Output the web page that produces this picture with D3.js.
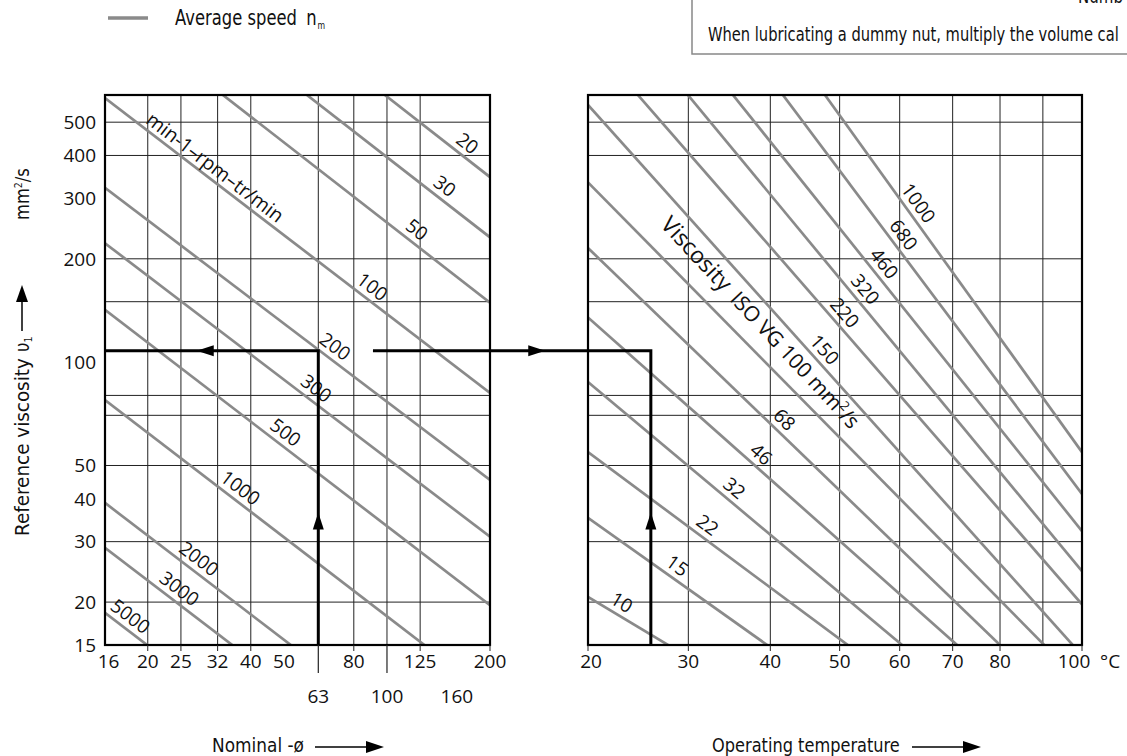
<!DOCTYPE html>
<html><head><meta charset="utf-8">
<script src="https://cdn.jsdelivr.net/npm/d3@7/dist/d3.min.js"></script>
<style>
html,body{margin:0;padding:0;background:#fff;overflow:hidden}
svg{display:block}
</style></head>
<body><svg id="c" width="1127" height="756"></svg>
<script>
// ---------------- data ----------------
const diamTickLabels = [16, 20, 25, 32, 40, 50, 80, 125, 200];
const diamTickLabels2 = [63, 100, 160];
const diamGrid = [20, 25, 32, 40, 63, 80, 100, 125];
const diamShortTicks = [20, 25, 32, 40, 80, 125, 200];
const diamLongTicks = [63, 100];

const viscTickLabels = [15, 20, 30, 40, 50, 100, 200, 300, 400, 500];
const viscGrid = [20, 30, 50, 70, 80, 150, 200, 400, 500];

const tempTickLabels = [20, 30, 40, 50, 60, 70, 80, 100];
const tempGrid = [30, 40, 50, 60, 70, 80, 90];

// speed lines (left): reference viscosity at d = 15 and d = 200
const speeds = [20, 30, 50, 100, 200, 300, 500, 1000, 2000, 3000, 5000];
const speedNuAtD15 = [2600, 1720, 1110, 588, 322, 222, 142, 77.6, 38.9, 28.8, 18.6];
const speedNuAtD200 = [346, 231, 149, 81.3, 45.4, 31.0, 19.6, 10.7, 5.4, 4.0, 2.6];
const speedLabelD = [163, 140, 116, 86, 67, 59, 48, 35.4, 26.8, 23.5, 16.9];

// ISO VG lines (right): viscosity at 20 °C and 100 °C
const grades = [10, 15, 22, 32, 46, 68, 100, 150, 220, 320, 460, 680, 1000];
const gradeNuAt20 = [20.7, 35.2, 54.7, 87.5, 135, 215, 334, 561, 881, 1349, 2022, 3434, 5460];
const gradeNuAt100 = [2.84, 3.35, 4.67, 5.46, 7.13, 8.83, 11.6, 14.0, 19.7, 24.6, 32.2, 41.3, 54.7];
const gradeLabelT = [22.5, 28, 31.3, 34.4, 37.7, 40.7, null, 46.3, 49.3, 52.5, 55.6, 58.9, 61.5];

// worked example
const exampleDiam = 63;
const exampleNu = 108;
const exampleTemp = 26;
const exampleStartDiam = 91;

// ---------------- layout ----------------
const svg = d3.select('#c');
const T = 95, B = 645;
const y = d3.scaleLog().domain([15, 600]).range([B, T]);
const xL = d3.scaleLog().domain([15, 200]).range([105, 490]);
const tempOffset = 20;
const xRlog = d3.scaleLog().domain([20 + tempOffset, 100 + tempOffset]).range([588, 1082]);
const xR = t => xRlog(t + tempOffset);

const NUMF = "'Open Sans','Noto Sans',sans-serif";
const CONDF = "'DejaVu Sans',sans-serif";
const GREY = '#8a8a8a';

// condensed text: natural text squeezed horizontally to a target width
function condText(x, yy, size, width, rot, build) {
  const t = svg.append('text').attr('font-family', CONDF).attr('font-size', size).attr('fill', '#111');
  build(t);
  const len = t.node().getComputedTextLength();
  const s = width ? width / len : 0.86;
  t.attr('transform', `translate(${x},${yy}) rotate(${rot}) scale(${s},1)`);
  return t;
}

const defs = svg.append('defs');
defs.append('clipPath').attr('id', 'clipL').append('rect')
  .attr('x', xL(15)).attr('y', T).attr('width', xL(200) - xL(15)).attr('height', B - T);
defs.append('clipPath').attr('id', 'clipR').append('rect')
  .attr('x', xR(20)).attr('y', T).attr('width', xR(100) - xR(20)).attr('height', B - T);

function panel(xs, x0, x1, vGrid) {
  const g = svg.append('g');
  g.selectAll('line.h').data(viscGrid).join('line')
    .attr('x1', xs(x0)).attr('x2', xs(x1)).attr('y1', d => y(d)).attr('y2', d => y(d))
    .attr('stroke', '#222').attr('stroke-width', 1);
  g.selectAll('line.v').data(vGrid).join('line')
    .attr('x1', d => xs(d)).attr('x2', d => xs(d)).attr('y1', T).attr('y2', B)
    .attr('stroke', '#222').attr('stroke-width', 1);
  return g;
}
panel(xL, 15, 200, diamGrid);
panel(xR, 20, 100, tempGrid);

function lineGeom(xs, xa, xb, va, vb, at) {
  const x1 = xs(xa), y1 = y(va), x2 = xs(xb), y2 = y(vb);
  const ang = Math.atan2(y2 - y1, x2 - x1) * 180 / Math.PI;
  let px = null, py = null;
  if (at != null) { px = xs(at); py = y1 + (px - x1) * (y2 - y1) / (x2 - x1); }
  return { x1, y1, x2, y2, ang, px, py };
}

const diagL = svg.append('g').attr('clip-path', 'url(#clipL)');
const diagR = svg.append('g').attr('clip-path', 'url(#clipR)');
const labs = svg.append('g').attr('font-family', NUMF).attr('fill', '#111');

speeds.forEach((s, i) => {
  const g = lineGeom(xL, 15, 200, speedNuAtD15[i], speedNuAtD200[i], speedLabelD[i]);
  diagL.append('line').attr('x1', g.x1).attr('y1', g.y1).attr('x2', g.x2).attr('y2', g.y2)
    .attr('stroke', GREY).attr('stroke-width', 2.7);
  labs.append('text').attr('transform', `translate(${g.px},${g.py}) rotate(${g.ang})`)
    .attr('y', -6).attr('text-anchor', 'middle').attr('font-size', 19).text(s);
});

{
  const g = lineGeom(xL, 15, 200, speedNuAtD15[3], speedNuAtD200[3], 19.2);
  labs.append('text').attr('transform', `translate(${g.px},${g.py}) rotate(${g.ang})`)
    .attr('y', -5).attr('text-anchor', 'start').attr('font-size', 19.5).text('min-1–rpm–tr/min');
}

grades.forEach((s, i) => {
  const g = lineGeom(xR, 20, 100, gradeNuAt20[i], gradeNuAt100[i], gradeLabelT[i]);
  diagR.append('line').attr('x1', g.x1).attr('y1', g.y1).attr('x2', g.x2).attr('y2', g.y2)
    .attr('stroke', GREY).attr('stroke-width', 2.7);
  if (gradeLabelT[i] != null) {
    labs.append('text').attr('transform', `translate(${g.px},${g.py}) rotate(${g.ang})`)
      .attr('y', -6).attr('text-anchor', 'middle').attr('font-size', 19).text(s);
  }
});

{
  const g = lineGeom(xR, 20, 100, gradeNuAt20[6], gradeNuAt100[6], null);
  const t = labs.append('text')
    .attr('transform', `translate(${xR(26.9)},${y(250)}) rotate(${g.ang + 1.6})`);
  t.append('tspan').attr('font-size', 23).text('Viscosity');
  t.append('tspan').attr('font-size', 21).attr('dx', 10).text('ISO VG 100 mm');
  t.append('tspan').attr('font-size', 13).attr('dy', -8).text('2');
  t.append('tspan').attr('font-size', 21).attr('dy', 8).text('/s');
}

// frames
[[xL(15), xL(200)], [xR(20), xR(100)]].forEach(([a, b]) => {
  svg.append('rect').attr('x', a).attr('y', T).attr('width', b - a).attr('height', B - T)
    .attr('fill', 'none').attr('stroke', '#000').attr('stroke-width', 2.2);
});

// ticks below axis
svg.selectAll('line.dt').data(diamShortTicks).join('line')
  .attr('x1', d => xL(d)).attr('x2', d => xL(d)).attr('y1', B).attr('y2', B + 6)
  .attr('stroke', '#222').attr('stroke-width', 1);
svg.selectAll('line.dl').data(diamLongTicks).join('line')
  .attr('x1', d => xL(d)).attr('x2', d => xL(d)).attr('y1', B).attr('y2', B + 28)
  .attr('stroke', '#222').attr('stroke-width', 1.2);
svg.selectAll('line.tt').data(tempTickLabels).join('line')
  .attr('x1', d => xR(d)).attr('x2', d => xR(d)).attr('y1', B).attr('y2', B + 6)
  .attr('stroke', '#222').attr('stroke-width', 1);

// tick labels
const tl = svg.append('g').attr('font-family', NUMF).attr('font-size', 19).attr('fill', '#111');
tl.selectAll('text.yl').data(viscTickLabels).join('text')
  .attr('x', 96).attr('y', d => y(d)).attr('dy', '0.36em').attr('text-anchor', 'end').text(d => d);
tl.selectAll('text.dl').data(diamTickLabels).join('text')
  .attr('x', (d, i) => xL(d) - (i === 0 ? 6 : 0)).attr('y', 668).attr('text-anchor', 'middle').text(d => d);
tl.selectAll('text.dl2').data(diamTickLabels2).join('text')
  .attr('x', d => xL(d)).attr('y', 703).attr('text-anchor', 'middle').text(d => d);
tl.selectAll('text.tl').data(tempTickLabels).join('text')
  .attr('x', (d, i) => xR(d) + (i === 0 ? 3 : 0) - (i === tempTickLabels.length - 1 ? 8 : 0))
  .attr('y', 668).attr('text-anchor', 'middle').text(d => d);
tl.append('text').attr('x', 1100).attr('y', 668).text('°C');

// worked example arrows
const ex = svg.append('g').attr('stroke', '#000').attr('stroke-width', 3).attr('fill', 'none');
const exX = xL(exampleDiam), exY = y(exampleNu), exXR = xR(exampleTemp), exX0 = xL(exampleStartDiam);
ex.append('path').attr('d', `M${exX},${B}V${exY}H${xL(15)}`);
ex.append('path').attr('d', `M${exX0},${exY}H${exXR}V${B}`);
function head(x, yy, dir) {
  const s = 11, l = 17;
  let p;
  if (dir === 'up') p = [[x, yy], [x - s / 2, yy + l], [x + s / 2, yy + l]];
  if (dir === 'left') p = [[x, yy], [x + l, yy - s / 2], [x + l, yy + s / 2]];
  if (dir === 'right') p = [[x, yy], [x - l, yy - s / 2], [x - l, yy + s / 2]];
  svg.append('path').attr('d', 'M' + p.join('L') + 'Z').attr('fill', '#000');
}
head(exX, B - 0.45 * (B - exY), 'up');
head(exXR, B - 0.45 * (B - exY), 'up');
head(exX - 0.57 * (exX - xL(15)), exY, 'left');
head(exX0 + 0.62 * (exXR - exX0), exY, 'right');

// legend
svg.append('line').attr('x1', 108).attr('x2', 148).attr('y1', 18).attr('y2', 18)
  .attr('stroke', GREY).attr('stroke-width', 3.5);
condText(175, 25, 21, 140, 0, t => {
  t.append('tspan').text('Average speed');
  t.append('tspan').attr('dx', 12).text('n');
  t.append('tspan').attr('font-size', 10).attr('dx', 1).attr('dy', 4).text('m');
});

// note box top right
svg.append('path').attr('d', 'M692,-2V54H1130').attr('fill', 'none').attr('stroke', '#888').attr('stroke-width', 1.5);
condText(708, 41, 20, 411, 0, t => t.text('When lubricating a dummy nut, multiply the volume cal'));
condText(1078, 3, 20, 45, 0, t => t.text('Numb'));

// axis titles
condText(212, 752, 19, 92, 0, t => t.text('Nominal -ø'));
condText(712, 752, 19, 188, 0, t => t.text('Operating temperature'));
svg.append('line').attr('x1', 315).attr('x2', 368).attr('y1', 747).attr('y2', 747).attr('stroke', '#000').attr('stroke-width', 1.5);
svg.append('path').attr('d', 'M384,747L366,741L366,753Z').attr('fill', '#000');
svg.append('line').attr('x1', 912).attr('x2', 964).attr('y1', 747).attr('y2', 747).attr('stroke', '#000').attr('stroke-width', 1.5);
svg.append('path').attr('d', 'M981,747L963,741L963,753Z').attr('fill', '#000');

// left vertical title
const vx = 29;
condText(vx, 536, 19, 178, -90, t => t.text('Reference viscosity'));
condText(vx, 352, 19, null, -90, t => {
  t.append('tspan').text('υ');
  t.append('tspan').attr('font-size', 11).attr('dy', 3).text('1');
});
svg.append('line').attr('x1', vx - 7).attr('x2', vx - 7).attr('y1', 331).attr('y2', 300).attr('stroke', '#000').attr('stroke-width', 1.5);
svg.append('path').attr('d', `M${vx - 7},285L${vx - 13},302L${vx - 1},302Z`).attr('fill', '#000');
condText(vx, 220, 19, null, -90, t => {
  t.append('tspan').text('mm');
  t.append('tspan').attr('font-size', 11).attr('dy', -7).text('2');
  t.append('tspan').attr('dy', 7).text('/s');
});
</script>
</body></html>
